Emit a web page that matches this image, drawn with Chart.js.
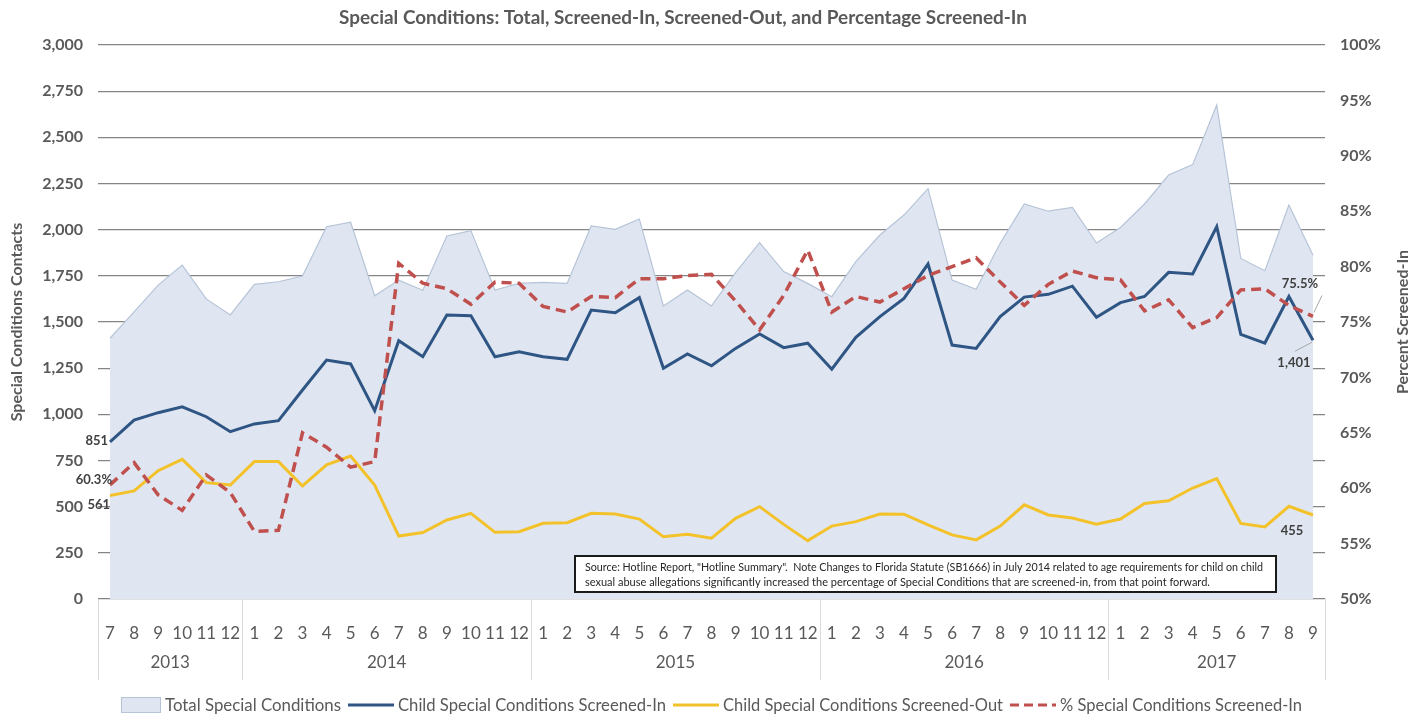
<!DOCTYPE html>
<html>
<head>
<meta charset="utf-8">
<title>Special Conditions</title>
<script src="https://cdn.jsdelivr.net/npm/chart.js@4.4.1/dist/chart.umd.min.js"></script>
<style>
  html, body { margin: 0; padding: 0; background: #fff; }
  #wrap { width: 1421px; height: 717px; }
</style>
</head>
<body>
<div id="wrap"><canvas id="chart" width="1421" height="717"></canvas></div>
<script>
// ── Data (Jul 2013 – Sep 2017) ───────────────────────────────
const MONTHS = [
  '7','8','9','10','11','12',
  '1','2','3','4','5','6','7','8','9','10','11','12',
  '1','2','3','4','5','6','7','8','9','10','11','12',
  '1','2','3','4','5','6','7','8','9','10','11','12',
  '1','2','3','4','5','6','7','8','9'
];
const YEARS      = ['2013', '2014', '2015', '2016', '2017'];
const YEAR_SPANS = [6, 12, 12, 12, 9];

const TOTAL = [
  1412, 1555, 1700, 1808, 1625, 1538,
  1704, 1718, 1749, 2016, 2040, 1642, 1727, 1672, 1966, 1995, 1673, 1709,
  1715, 1709, 2020, 2002, 2058, 1587, 1673, 1587, 1767, 1930, 1773, 1709,
  1637, 1827, 1971, 2079, 2222, 1727, 1677, 1926, 2139, 2100, 2120, 1928,
  2012, 2139, 2296, 2352, 2675, 1844, 1778, 2133, 1862
];
const SCREENED_IN = [
  851, 969, 1009, 1041, 987, 906,
  948, 966, 1132, 1294, 1273, 1020, 1399, 1312, 1538, 1534, 1312, 1339,
  1312, 1298, 1565, 1550, 1632, 1249, 1327, 1263, 1357, 1435, 1361, 1385,
  1244, 1417, 1529, 1628, 1814, 1375, 1357, 1529, 1635, 1650, 1694, 1526,
  1605, 1638, 1769, 1760, 2016, 1433, 1386, 1638, 1401
];
const SCREENED_OUT = [
  561, 585, 695, 756, 630, 617,
  744, 744, 612, 726, 774, 617, 341, 360, 428, 464, 361, 364,
  410, 413, 464, 460, 433, 337, 350, 329, 437, 500, 404, 316,
  395, 419, 460, 459, 401, 347, 320, 395, 510, 455, 439, 405,
  433, 517, 532, 601, 652, 409, 390, 502, 455
];
const PCT_IN = [
  60.3, 62.3, 59.4, 58.0, 61.2, 59.6,
  56.1, 56.2, 65.0, 63.7, 61.9, 62.4, 80.3, 78.5, 78.0, 76.6, 78.6, 78.5,
  76.4, 75.9, 77.3, 77.2, 78.9, 78.9, 79.2, 79.3, 76.9, 74.3, 77.4, 81.5,
  75.9, 77.3, 76.8, 78.0, 79.2, 80.0, 80.8, 78.6, 76.5, 78.4, 79.6, 79.0,
  78.8, 76.0, 77.0, 74.5, 75.4, 77.9, 78.0, 76.5, 75.5
];

const TITLE  = 'Special Conditions: Total, Screened-In, Screened-Out, and Percentage Screened-In';
const NOTE_1 = 'Source: Hotline Report, "Hotline Summary".  Note Changes to Florida Statute (SB1666) in July 2014 related to age requirements for child on child';
const NOTE_2 = 'sexual abuse allegations significantly increased the percentage of Special Conditions that are screened-in, from that point forward.';

// ── Styles ───────────────────────────────────────────────────
const GREY   = '#595959';
const FONT   = 'Lato, "Open Sans", sans-serif';
const C_AREA = '#dfe6f1';
const C_EDGE = '#b6c4d8';
const C_IN   = '#2e5583';
const C_OUT  = '#f3c22b';
const C_PCT  = '#c0504d';

const fmt = v => Number(v).toLocaleString('en-US');

// ── Extras: title, year groups, labels, note, legend ─────────
const extrasPlugin = {
  id: 'extras',
  afterDatasetsDraw(chart) {
    const { ctx, chartArea: ca, scales: { x, y, y1 } } = chart;
    const last = MONTHS.length - 1;
    ctx.save();

    // data labels at both ends
    ctx.font = `bold 13px ${FONT}`;
    ctx.fillStyle = '#404040';
    ctx.textBaseline = 'middle';
    const x0 = x.getPixelForValue(0);
    const xn = x.getPixelForValue(last);
    ctx.textAlign = 'right';
    ctx.fillText(fmt(SCREENED_IN[0]), x0 - 2, y.getPixelForValue(SCREENED_IN[0]) - 1);
    ctx.fillText(PCT_IN[0].toFixed(1) + '%', x0 + 2, y1.getPixelForValue(PCT_IN[0]) - 5);
    ctx.fillText(fmt(SCREENED_OUT[0]), x0, y.getPixelForValue(SCREENED_OUT[0]) + 9);

    ctx.textAlign = 'center';
    const pY = y1.getPixelForValue(PCT_IN[last]);
    const iY = y.getPixelForValue(SCREENED_IN[last]);
    ctx.fillText(PCT_IN[last].toFixed(1) + '%', xn - 13, pY - 33);
    ctx.fillText(fmt(SCREENED_IN[last]), xn - 19, iY + 23);
    ctx.fillText(fmt(SCREENED_OUT[last]), xn - 21, y.getPixelForValue(SCREENED_OUT[last]) + 16);

    ctx.strokeStyle = '#a6a6a6';
    ctx.lineWidth = 1;
    ctx.beginPath();
    ctx.moveTo(xn + 1, pY - 4);  ctx.lineTo(xn + 9, pY - 21);
    ctx.moveTo(xn - 1, iY + 2);  ctx.lineTo(xn - 18, iY + 11);
    ctx.stroke();

    // note box
    ctx.fillStyle = '#fff';
    ctx.fillRect(575, 556, 701, 36);
    ctx.strokeStyle = '#1a1a1a';
    ctx.lineWidth = 2;
    ctx.strokeRect(575, 556, 701, 36);
    ctx.fillStyle = '#262626';
    ctx.font = `11px ${FONT}`;
    ctx.textAlign = 'left';
    ctx.fillText(NOTE_1, 585, 567, 678);
    ctx.fillText(NOTE_2, 585, 582, 628);

    // title
    ctx.font = `bold 19px ${FONT}`;
    ctx.fillStyle = GREY;
    ctx.textAlign = 'center';
    ctx.fillText(TITLE, 683, 18, 688);

    // right axis title, reading bottom to top like the left one
    ctx.save();
    ctx.translate(1403, (ca.top + ca.bottom) / 2);
    ctx.rotate(-Math.PI / 2);
    ctx.font = `bold 16px ${FONT}`;
    ctx.fillText('Percent Screened-In', 0, 0);
    ctx.restore();

    // year groups with separators
    const step = x.getPixelForValue(1) - x0;
    ctx.strokeStyle = '#d9d9d9';
    ctx.lineWidth = 1;
    ctx.font = `17px ${FONT}`;
    let start = 0;
    YEARS.forEach((yr, k) => {
      const end = start + YEAR_SPANS[k] - 1;
      const l = x.getPixelForValue(start) - step / 2;
      const r = x.getPixelForValue(end) + step / 2;
      ctx.beginPath();
      ctx.moveTo(Math.round(l) + 0.5, ca.bottom);
      ctx.lineTo(Math.round(l) + 0.5, 680);
      if (k === YEARS.length - 1) {
        ctx.moveTo(Math.round(r) + 0.5, ca.bottom);
        ctx.lineTo(Math.round(r) + 0.5, 680);
      }
      ctx.stroke();
      ctx.fillText(yr, (l + r) / 2, 663);
      start = end + 1;
    });

    // legend
    const items = [
      { text: 'Total Special Conditions',               kind: 'box',  w: 176 },
      { text: 'Child Special Conditions Screened-In',   kind: 'line', color: C_IN,  w: 268 },
      { text: 'Child Special Conditions Screened-Out',  kind: 'line', color: C_OUT, w: 280 },
      { text: '% Special Conditions Screened-In',       kind: 'dash', color: C_PCT, w: 242 }
    ];
    const sym = 46, gapT = 4, gapI = 7, ly = 705;
    let lx = 121;
    ctx.font = `17px ${FONT}`;
    ctx.textAlign = 'left';
    items.forEach(it => {
      if (it.kind === 'box') {
        ctx.fillStyle = C_AREA;
        ctx.fillRect(lx, ly - 8, 40, 16);
        ctx.strokeStyle = C_EDGE;
        ctx.lineWidth = 1;
        ctx.strokeRect(lx + 0.5, ly - 7.5, 39, 15);
        lx += 40;
      } else {
        ctx.strokeStyle = it.color;
        ctx.lineWidth = 3;
        ctx.setLineDash(it.kind === 'dash' ? [9, 5] : []);
        ctx.beginPath();
        ctx.moveTo(lx, ly);
        ctx.lineTo(lx + sym, ly);
        ctx.stroke();
        ctx.setLineDash([]);
        lx += sym;
      }
      lx += gapT;
      ctx.fillStyle = GREY;
      ctx.fillText(it.text, lx, ly + 1, it.w);
      lx += Math.min(ctx.measureText(it.text).width, it.w) + gapI;
    });

    ctx.restore();
  }
};

// ── Chart ────────────────────────────────────────────────────
new Chart(document.getElementById('chart'), {
  type: 'line',
  data: {
    labels: MONTHS,
    datasets: [
      {
        label: 'Total Special Conditions',
        data: TOTAL,
        yAxisID: 'y',
        fill: 'origin',
        backgroundColor: C_AREA,
        borderColor: C_EDGE,
        borderWidth: 1.2,
        pointRadius: 0,
        order: 3
      },
      {
        label: 'Child Special Conditions Screened-In',
        data: SCREENED_IN,
        yAxisID: 'y',
        borderColor: C_IN,
        borderWidth: 3,
        pointRadius: 0,
        fill: false,
        order: 1
      },
      {
        label: 'Child Special Conditions Screened-Out',
        data: SCREENED_OUT,
        yAxisID: 'y',
        borderColor: C_OUT,
        borderWidth: 3,
        pointRadius: 0,
        fill: false,
        order: 2
      },
      {
        label: '% Special Conditions Screened-In',
        data: PCT_IN,
        yAxisID: 'y1',
        borderColor: C_PCT,
        borderWidth: 3.5,
        borderDash: [10, 6],
        pointRadius: 0,
        fill: false,
        order: 0
      }
    ]
  },
  options: {
    responsive: false,
    animation: false,
    devicePixelRatio: 1,
    layout: { padding: { top: 45, bottom: 27, left: 0, right: 0 } },
    plugins: {
      legend:  { display: false },
      title:   { display: false },
      tooltip: { enabled: false }
    },
    scales: {
      x: {
        offset: true,
        grid: { display: false },
        border: { display: false },
        ticks: {
          color: GREY, font: { family: FONT, size: 17 },
          padding: 16, maxRotation: 0, autoSkip: false
        },
        afterFit: s => { s.height = 91; }
      },
      y: {
        position: 'left',
        min: 0, max: 3000,
        border: { display: false },
        grid: { color: '#858585', lineWidth: 1.3, drawTicks: false },
        ticks: {
          stepSize: 250, padding: 15,
          color: GREY, font: { family: FONT, size: 16, weight: 'bold' },
          callback: v => fmt(v)
        },
        title: {
          display: true, text: 'Special Conditions Contacts',
          color: GREY, font: { family: FONT, size: 16, weight: 'bold' },
          padding: { top: 7, bottom: 0 }
        },
        afterFit: s => { s.width = 98; }
      },
      y1: {
        position: 'right',
        min: 50, max: 100,
        border: { display: false },
        grid: { display: false, drawTicks: false },
        ticks: {
          stepSize: 5, padding: 15,
          color: GREY, font: { family: FONT, size: 16, weight: 'bold' },
          callback: v => v + '%'
        },
        afterFit: s => { s.width = 96; }
      }
    }
  },
  plugins: [extrasPlugin]
});
</script>
</body>
</html>
